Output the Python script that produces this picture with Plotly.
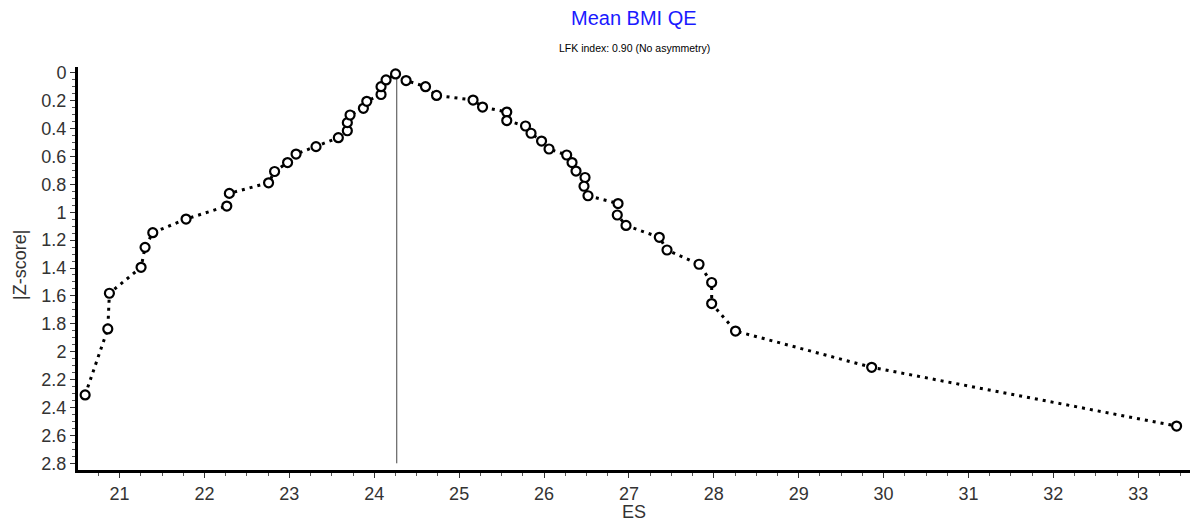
import plotly.graph_objects as go

es = [20.594, 20.861, 20.880, 21.253, 21.300, 21.391, 21.783, 22.263, 22.293, 22.755,
      22.826, 22.979, 23.079, 23.314, 23.577, 23.683, 23.683, 23.715, 23.872, 23.912,
      24.080, 24.080, 24.139, 24.251, 24.375, 24.604, 24.734, 25.164, 25.276, 25.561,
      25.561, 25.782, 25.847, 25.971, 26.059, 26.267, 26.330, 26.377, 26.483, 26.471,
      26.518, 26.872, 26.863, 26.966, 27.358, 27.449, 27.826, 27.975, 27.975, 28.256,
      29.860, 33.452]
zscore = [2.310, 1.837, 1.581, 1.395, 1.252, 1.147, 1.049, 0.956, 0.865, 0.789,
          0.708, 0.644, 0.583, 0.530, 0.466, 0.416, 0.358, 0.303, 0.255, 0.205,
          0.156, 0.100, 0.052, 0.009, 0.056, 0.100, 0.163, 0.196, 0.246, 0.282,
          0.343, 0.382, 0.434, 0.490, 0.547, 0.590, 0.644, 0.705, 0.751, 0.814,
          0.882, 0.938, 1.020, 1.095, 1.180, 1.271, 1.373, 1.504, 1.655, 1.852,
          2.112, 2.533]
mean_es = 24.265
vline_z = [0.0, 2.8]

title_text = "Mean BMI QE"
subtitle_text = "LFK index: 0.90 (No asymmetry)"
x_title = "ES"
y_title = "|Z-score|"

FONT = "Liberation Sans, Arial, sans-serif"

fig = go.Figure()
fig.add_trace(go.Scatter(
    x=[mean_es, mean_es], y=vline_z, mode="lines",
    line=dict(color="#444444", width=1), hoverinfo="skip", showlegend=False))
fig.add_trace(go.Scatter(
    x=es, y=zscore, mode="lines+markers",
    line=dict(color="black", width=3, dash="3px,5px"),
    marker=dict(symbol="circle", size=9, color="white",
                line=dict(color="black", width=2.2)),
    showlegend=False))

W, H = 1193, 525
L, R, T, B = 78, 3, 67, 55
ph = H - T - B
pw = W - L - R

fig.update_layout(
    width=W, height=H,
    margin=dict(l=L, r=R, t=T, b=B),
    paper_bgcolor="white", plot_bgcolor="white",
    font=dict(family=FONT, color="black", size=18),
    xaxis=dict(range=[20.51, 33.61], dtick=1, tick0=0, showgrid=False, zeroline=False,
               showline=True, linecolor="black", linewidth=3,
               ticks="outside", ticklen=5, tickwidth=1, tickcolor="#333",
               tickfont=dict(size=18, color="#333"),
               minor=dict(dtick=0.25, ticks="outside", ticklen=3, tickcolor="#555", showgrid=False)),
    yaxis=dict(range=[2.848, -0.041], dtick=0.2, tick0=0, showgrid=False, zeroline=False,
               showline=True, linecolor="black", linewidth=3,
               ticks="outside", ticklen=5, tickwidth=1, tickcolor="#333",
               tickfont=dict(size=18, color="#333"),
               minor=dict(dtick=0.05, ticks="outside", ticklen=3, tickcolor="#555", showgrid=False)),
    annotations=[
        dict(text=title_text, xref="paper", yref="paper", x=0.5, y=(H - B - 18) / ph,
             xanchor="center", yanchor="middle", showarrow=False,
             font=dict(size=20, color="#1a1aff", family=FONT)),
        dict(text=subtitle_text, xref="paper", yref="paper", x=0.5, y=(H - B - 48) / ph,
             xanchor="center", yanchor="middle", showarrow=False,
             font=dict(size=10.5, color="black", family=FONT)),
        dict(text=x_title, xref="paper", yref="paper", x=0.5, y=-(512 - (H - B)) / ph,
             xanchor="center", yanchor="middle", showarrow=False,
             font=dict(size=18, color="#333", family=FONT)),
        dict(text=y_title, xref="paper", yref="paper", x=-(L - 20) / pw, y=(H - B - 265) / ph,
             xanchor="center", yanchor="middle", showarrow=False, textangle=-90,
             font=dict(size=18, color="#333", family=FONT)),
    ],
)

fig.write_html("out.html", config={"displayModeBar": False},
               post_script="document.body.style.margin='0';document.body.style.overflow='hidden';")
